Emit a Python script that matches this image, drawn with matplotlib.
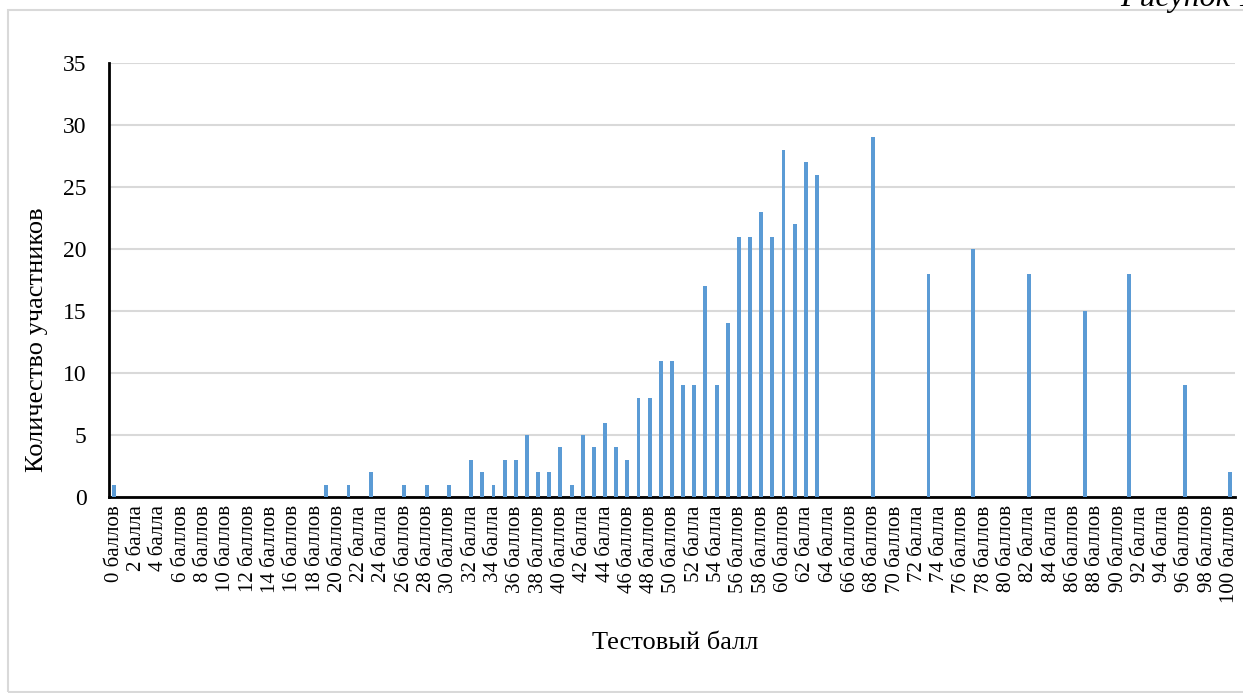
import numpy as np
import matplotlib
matplotlib.use('Agg')
import matplotlib.pyplot as plt
from matplotlib.patches import Rectangle

# data: test score -> number of participants (scores 0..100)
scores = list(range(0, 101))
nonzero = {
    0: 1, 19: 1, 21: 1, 23: 2, 26: 1, 28: 1, 30: 1,
    32: 3, 33: 2, 34: 1, 35: 3, 36: 3, 37: 5, 38: 2, 39: 2, 40: 4,
    41: 1, 42: 5, 43: 4, 44: 6, 45: 4, 46: 3, 47: 8, 48: 8, 49: 11,
    50: 11, 51: 9, 52: 9, 53: 17, 54: 9, 55: 14, 56: 21, 57: 21,
    58: 23, 59: 21, 60: 28, 61: 22, 62: 27, 63: 26,
    68: 29, 73: 18, 77: 20, 82: 18, 87: 15, 91: 18, 96: 9, 100: 2,
}
counts = [nonzero.get(s, 0) for s in scores]


def word(n):
    if n % 100 in (11, 12, 13, 14):
        return 'баллов'
    if n % 10 == 1:
        return 'балл'
    if n % 10 in (2, 3, 4):
        return 'балла'
    return 'баллов'


tick_scores = scores[::2]
tick_labels = ['%d %s' % (s, word(s)) for s in tick_scores]

plt.rcParams['font.family'] = ['Liberation Serif', 'DejaVu Serif']

fig = plt.figure(figsize=(12.43, 6.93), dpi=100)
ax = fig.add_axes([0.0875, 0.2828, 0.9062, 0.6262])

ax.bar(scores, counts, width=0.35, color='#5B9BD5', zorder=3)

ax.set_xlim(-0.5, 100.5)
ax.set_ylim(0, 35)
ax.set_yticks(range(0, 36, 5))
ax.set_xticks(tick_scores)
ax.set_xticklabels(tick_labels, rotation=90, fontsize=15)
ax.tick_params(axis='y', labelsize=17, length=0, pad=16)
ax.tick_params(axis='x', length=0, pad=6)
ax.grid(axis='y', color='#d9d9d9', linewidth=1.5, zorder=0)

for side in ('top', 'right'):
    ax.spines[side].set_visible(False)
for side in ('left', 'bottom'):
    ax.spines[side].set_linewidth(2)
    ax.spines[side].set_color('black')

fig.text(37 / 1243, 1 - 340 / 693, 'Количество участников', fontsize=19,
         rotation=90, ha='center', va='center')
fig.text(0.543, 1 - 643 / 693, 'Тестовый балл', fontsize=19,
         ha='center', va='center')

# chart area border
fig.patches.append(Rectangle((8 / 1243, 1 / 693), 1.2, 682 / 693,
                             transform=fig.transFigure, fill=False,
                             edgecolor='#d9d9d9', linewidth=1.5))
# caption above the chart, cut at the top edge as in the source
fig.text(1120 / 1243, 1 - 6 / 693, 'Рисунок 1', fontsize=23,
         style='italic', ha='left', va='baseline')

fig.savefig('out.png', dpi=100)
